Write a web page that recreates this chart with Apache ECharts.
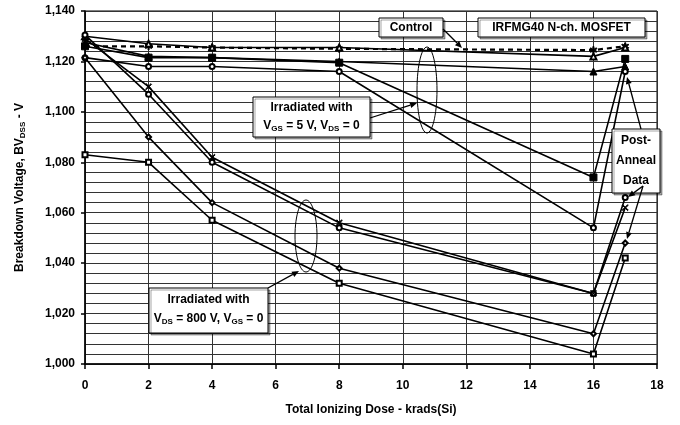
<!DOCTYPE html>
<html><head><meta charset="utf-8">
<script src="https://cdn.jsdelivr.net/npm/echarts@6/dist/echarts.min.js"></script>
<style>html,body{margin:0;padding:0;background:#fff}#c{width:680px;height:425px}</style>
</head><body><div id="c"></div>
<script>
// Total ionizing dose (krads(Si)); last point = post-anneal
const doses = [0, 2, 4, 8, 16, 17];
// Control devices
const ctrlOpenTri = [1130, 1127, 1125.5, 1125.5, 1122, 1125.5];
const ctrlDashed = [1126, 1126, 1125.5, 1125, 1124.5, 1126];
const ctrlFilledTri = [1127.5, 1122, 1121.5, 1120, 1116, 1118];
// Irradiated with VGS = 5 V, VDS = 0
const gs5FilledSq = [1126, 1121.5, 1121.5, 1119.5, 1074, 1121];
const gs5OpenCirc = [1121.5, 1118, 1118, 1116, 1054, 1116];
// Irradiated with VDS = 800 V, VGS = 0
const ds800OpenCirc = [1130.5, 1107, 1080, 1054, 1028, 1066];
const ds800Cross = [1129, 1110, 1082, 1056, 1028, 1062];
const ds800Diamond = [1121.5, 1090, 1064, 1038, 1012, 1048];
const ds800OpenSq = [1083, 1080, 1057, 1032, 1004, 1042];
// Axis ticks
const xTicks = [0, 2, 4, 6, 8, 10, 12, 14, 16, 18];
const yTicks = [1000, 1020, 1040, 1060, 1080, 1100, 1120, 1140];

const FONT = 'Liberation Sans, Arial, sans-serif';
const crossPath = 'path://M0,1 L1,0 L5,4 L9,0 L10,1 L6,5 L10,9 L9,10 L5,6 L1,10 L0,9 L4,5 Z';
const starPath = 'path://M4.3,0 H5.7 V3.3 L8.6,1.6 L9.3,2.8 L6.4,4.5 L9.3,6.2 L8.6,7.4 L5.7,5.7 V9 H4.3 V5.7 L1.4,7.4 L0.7,6.2 L3.6,4.5 L0.7,2.8 L1.4,1.6 L4.3,3.3 Z';

function mk(name, vals, symbol, size, dashed) {
  return {
    name, type: 'line', data: doses.map((d, i) => [d, vals[i]]),
    symbol, symbolSize: size, showSymbol: true,
    lineStyle: { color: '#000', width: dashed ? 2.2 : 1.6, type: dashed ? [5, 4] : 'solid' },
    itemStyle: { color: '#000', borderColor: '#000', borderWidth: 1 },
    emphasis: { disabled: true }, animation: false, z: 3
  };
}

const series = [
  mk('ctrlDashed', ctrlDashed, starPath, 7, true),
  mk('ctrlOpenTri', ctrlOpenTri, 'emptyTriangle', 6),
  mk('ctrlFilledTri', ctrlFilledTri, 'triangle', 7),
  mk('gs5FilledSq', gs5FilledSq, 'rect', 7),
  mk('gs5OpenCirc', gs5OpenCirc, 'emptyCircle', 5),
  mk('ds800OpenCirc', ds800OpenCirc, 'emptyCircle', 5),
  mk('ds800Cross', ds800Cross, crossPath, 6),
  mk('ds800Diamond', ds800Diamond, 'emptyDiamond', 5),
  mk('ds800OpenSq', ds800OpenSq, 'emptyRect', 5)
];

function box(x, y, w, h) {
  return { type: 'rect', z: 100, shape: { x, y, width: w, height: h },
    style: { fill: '#fff', stroke: '#000', lineWidth: 1, shadowColor: 'rgba(0,0,0,0.35)', shadowOffsetX: 2, shadowOffsetY: 2 } };
}
const rich = {
  a: { fontFamily: FONT, fontWeight: 'bold', fontSize: 12, fill: '#000' },
  s: { fontFamily: FONT, fontWeight: 'bold', fontSize: 8, fill: '#000', padding: [6, 0, 0, 0] }
};
function txt(x, y, t) {
  return { type: 'text', z: 101, x, y,
    style: { text: t, rich, font: 'bold 12px ' + FONT, fill: '#000', align: 'center', verticalAlign: 'middle' } };
}
function arrow(x1, y1, x2, y2) {
  const a = Math.atan2(y2 - y1, x2 - x1), L = 7, W = 3;
  const bx = x2 - L * Math.cos(a), by = y2 - L * Math.sin(a);
  const px = -Math.sin(a) * W, py = Math.cos(a) * W;
  return [
    { type: 'line', z: 100, shape: { x1, y1, x2: bx, y2: by }, style: { stroke: '#000', lineWidth: 1.3 } },
    { type: 'polygon', z: 100, shape: { points: [[x2, y2], [bx + px, by + py], [bx - px, by - py]] }, style: { fill: '#000' } }
  ];
}
function ellipse(cx, cy, rx, ry) {
  const pts = [];
  for (let i = 0; i < 60; i++) { const t = i / 60 * Math.PI * 2; pts.push([cx + rx * Math.cos(t), cy + ry * Math.sin(t)]); }
  return { type: 'polygon', z: 100, shape: { points: pts }, style: { fill: 'none', stroke: '#000', lineWidth: 1 } };
}

const graphics = [
  box(379, 18, 64, 19), txt(411, 28, 'Control'),
  ...arrow(443, 29, 462, 48),
  box(478, 18, 167, 19), txt(561.5, 28, 'IRFMG40 N-ch. MOSFET'),
  ellipse(427, 90, 10, 43),
  ...arrow(370, 118, 417, 103),
  box(253, 97, 117, 40), txt(311.5, 108, 'Irradiated with'),
  txt(311.5, 126, '{a|V}{s|GS}{a| = 5 V, V}{s|DS}{a| = 0}'),
  ellipse(306, 236, 11, 36),
  ...arrow(268, 288, 299, 271),
  box(149, 288, 119, 45), txt(208.5, 300, 'Irradiated with'),
  txt(208.5, 319, '{a|V}{s|DS}{a| = 800 V, V}{s|GS}{a| = 0}'),
  box(612, 129, 48, 64), txt(636, 141, 'Post-'), txt(636, 161, 'Anneal'), txt(636, 181, 'Data'),
  ...arrow(641, 129, 627, 77),
  ...arrow(643, 186, 628, 197),
  ...arrow(643, 186, 627, 239)
];

const chart = echarts.init(document.getElementById('c'), null, { renderer: 'canvas' });
chart.setOption({
  animation: false,
  backgroundColor: '#fff',
  grid: { left: 85, top: 11, width: 572, height: 353, show: true, borderColor: '#000', borderWidth: 1 },
  xAxis: {
    type: 'value', min: xTicks[0], max: xTicks[xTicks.length - 1], interval: 2,
    name: 'Total Ionizing Dose - krads(Si)', nameLocation: 'middle', nameGap: 40,
    nameTextStyle: { fontFamily: FONT, fontWeight: 'bold', fontSize: 12, color: '#000' },
    axisLine: { lineStyle: { color: '#000', width: 1.5 } },
    axisTick: { show: true, inside: false, length: 5, lineStyle: { color: '#000', width: 1.5 } },
    axisLabel: { fontFamily: FONT, fontWeight: 'bold', fontSize: 12, color: '#000', margin: 16 },
    splitLine: { show: true, lineStyle: { color: '#333', width: 1 } }
  },
  yAxis: {
    type: 'value', min: yTicks[0], max: yTicks[yTicks.length - 1], interval: 20,
    name: '{a|Breakdown Voltage, BV}{s|DSS}{a| - V}', nameLocation: 'middle', nameGap: 58,
    nameTextStyle: { rich: {
      a: { fontFamily: FONT, fontWeight: 'bold', fontSize: 12, color: '#000' },
      s: { fontFamily: FONT, fontWeight: 'bold', fontSize: 8, color: '#000', padding: [6, 0, 0, 0] } } },
    axisLine: { lineStyle: { color: '#000', width: 1.5 } },
    axisTick: { show: true, length: 4, lineStyle: { color: '#000', width: 1.5 } },
    axisLabel: { fontFamily: FONT, fontWeight: 'bold', fontSize: 12, color: '#000', margin: 10,
      formatter: v => v.toLocaleString('en-US') },
    splitLine: { show: true, lineStyle: { color: '#333', width: 1 } },
    minorTick: { show: false, splitNumber: 5 },
    minorSplitLine: { show: true, lineStyle: { color: '#333', width: 1 } }
  },
  series,
  graphic: graphics
});
</script></body></html>
